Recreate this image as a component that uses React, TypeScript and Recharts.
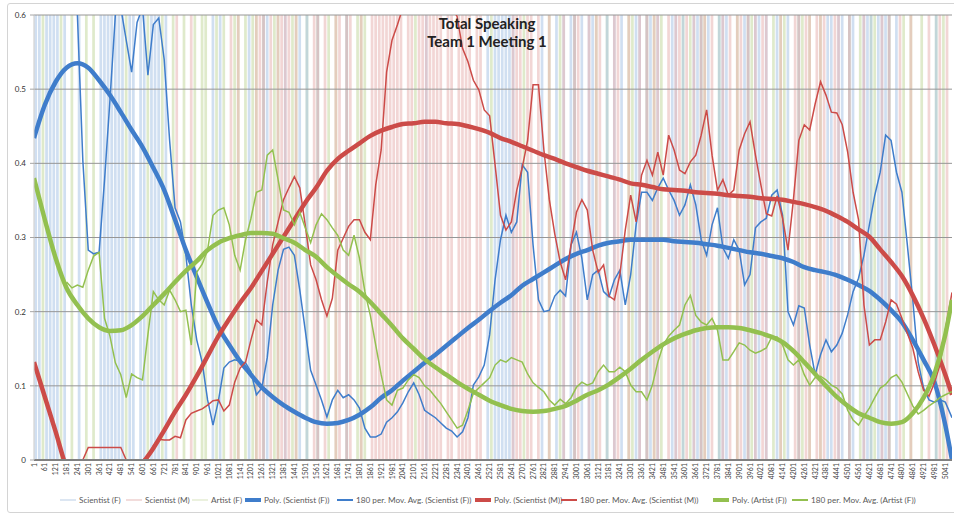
import React from "react";
import { LineChart, Line, XAxis, YAxis, ReferenceArea, ReferenceLine } from "recharts";

const LAST_INDEX = 5078;
const BLOCK = 20;

// axis labels every 60 rows
const tickIndex = Array.from({ length: 85 }, (_, k) => 1 + 60 * k);
// trend lines are sampled every 60 rows, the moving averages every 30 rows from row 181
const polyIndex = [...tickIndex, LAST_INDEX];
const avgIndex = [...Array.from({ length: 163 }, (_, k) => 181 + 30 * k), LAST_INDEX];

const sfPoly = [
  0.434, 0.479, 0.51, 0.529, 0.535, 0.529, 0.512, 0.492, 0.469, 0.445,
  0.422, 0.394, 0.364, 0.324, 0.283, 0.247, 0.212, 0.179, 0.155, 0.133,
  0.115, 0.098, 0.085, 0.074, 0.065, 0.057, 0.051, 0.049, 0.05, 0.054,
  0.061, 0.071, 0.084, 0.094, 0.107, 0.119, 0.131, 0.142, 0.154, 0.166,
  0.178, 0.189, 0.201, 0.212, 0.222, 0.235, 0.244, 0.253, 0.262, 0.271,
  0.278, 0.283, 0.289, 0.293, 0.295, 0.297, 0.297, 0.297, 0.297, 0.295,
  0.294, 0.293, 0.291, 0.289, 0.286, 0.283, 0.28, 0.278, 0.275, 0.272,
  0.267, 0.26, 0.256, 0.253, 0.249, 0.243, 0.236, 0.228, 0.216, 0.202,
  0.186, 0.162, 0.135, 0.105, 0.047, 0.0,
];

const smPoly = [
  0.132, 0.085, 0.038, -0.01, -0.03, -0.04, -0.045, -0.04, -0.03, -0.018,
  -0.004, 0.016, 0.04, 0.065, 0.088, 0.113, 0.14, 0.167, 0.19, 0.212,
  0.232, 0.255, 0.278, 0.301, 0.324, 0.347, 0.367, 0.39, 0.406, 0.417,
  0.427, 0.437, 0.444, 0.449, 0.453, 0.454, 0.456, 0.456, 0.454, 0.453,
  0.45, 0.446, 0.441, 0.434, 0.429, 0.423, 0.417, 0.411, 0.406, 0.4,
  0.395, 0.39, 0.386, 0.382, 0.378, 0.373, 0.371, 0.368, 0.365, 0.364,
  0.363, 0.361, 0.36, 0.359, 0.357, 0.356, 0.355, 0.353, 0.352, 0.351,
  0.348, 0.345, 0.341, 0.336, 0.329, 0.321, 0.311, 0.301, 0.284, 0.267,
  0.248, 0.222, 0.191, 0.155, 0.115, 0.088,
];

const afPoly = [
  0.38, 0.324, 0.272, 0.232, 0.209, 0.191, 0.179, 0.174, 0.175, 0.182,
  0.194, 0.209, 0.224, 0.24, 0.255, 0.268, 0.283, 0.293, 0.299, 0.303,
  0.306, 0.306, 0.305, 0.299, 0.293, 0.283, 0.274, 0.26, 0.248, 0.237,
  0.227, 0.213, 0.197, 0.181, 0.164, 0.15, 0.136, 0.125, 0.115, 0.105,
  0.096, 0.088, 0.08, 0.074, 0.069, 0.066, 0.065, 0.066, 0.069, 0.073,
  0.08, 0.088, 0.094, 0.102, 0.112, 0.123, 0.135, 0.146, 0.156, 0.164,
  0.17, 0.175, 0.178, 0.179, 0.179, 0.178, 0.175, 0.171, 0.166, 0.159,
  0.147, 0.132, 0.116, 0.1, 0.085, 0.073, 0.063, 0.057, 0.051, 0.049,
  0.051, 0.063, 0.084, 0.116, 0.169, 0.216,
];

const sfAvg = [
  0.66, 0.65, 0.6, 0.404, 0.283, 0.278, 0.28, 0.377, 0.485, 0.6,
  0.61, 0.566, 0.523, 0.59, 0.61, 0.519, 0.587, 0.596, 0.54, 0.431,
  0.34, 0.321, 0.276, 0.209, 0.162, 0.132, 0.081, 0.047, 0.08, 0.124,
  0.132, 0.135, 0.133, 0.131, 0.119, 0.088, 0.097, 0.138, 0.209, 0.256,
  0.284, 0.287, 0.276, 0.229, 0.175, 0.121, 0.101, 0.081, 0.058, 0.081,
  0.094, 0.084, 0.088, 0.081, 0.07, 0.043, 0.031, 0.031, 0.035, 0.051,
  0.057, 0.065, 0.077, 0.092, 0.104, 0.088, 0.067, 0.062, 0.057, 0.05,
  0.043, 0.039, 0.031, 0.038, 0.057, 0.101, 0.112, 0.128, 0.169, 0.243,
  0.297, 0.33, 0.307, 0.321, 0.398, 0.388, 0.29, 0.216, 0.2, 0.202,
  0.221, 0.229, 0.221, 0.29, 0.307, 0.272, 0.216, 0.25, 0.256, 0.227,
  0.22, 0.243, 0.256, 0.209, 0.25, 0.317, 0.361, 0.361, 0.35, 0.367,
  0.38, 0.364, 0.35, 0.33, 0.344, 0.371, 0.344, 0.297, 0.276, 0.317,
  0.34, 0.286, 0.272, 0.297, 0.283, 0.236, 0.25, 0.313, 0.321, 0.326,
  0.357, 0.364, 0.33, 0.2, 0.182, 0.208, 0.205, 0.155, 0.115, 0.142,
  0.162, 0.146, 0.155, 0.171, 0.196, 0.227, 0.245, 0.276, 0.317, 0.357,
  0.388, 0.438, 0.431, 0.388, 0.361, 0.29, 0.216, 0.132, 0.097, 0.081,
  0.078, 0.081, 0.078, 0.057,
];

const smAvg = [
  0, 0, 0, 0, 0.017, 0.017, 0.017, 0.017, 0.017, 0.017,
  0.017, 0, 0, 0, 0, 0.003, 0.019, 0.028, 0.027, 0.027,
  0.032, 0.03, 0.054, 0.063, 0.066, 0.069, 0.074, 0.08, 0.081, 0.066,
  0.074, 0.105, 0.124, 0.132, 0.162, 0.189, 0.182, 0.24, 0.29, 0.321,
  0.351, 0.367, 0.382, 0.367, 0.317, 0.263, 0.243, 0.216, 0.194, 0.218,
  0.283, 0.299, 0.315, 0.324, 0.324, 0.307, 0.297, 0.371, 0.418, 0.523,
  0.566, 0.587, 0.61, 0.63, 0.64, 0.65, 0.65, 0.65, 0.64, 0.63,
  0.62, 0.61, 0.598, 0.555, 0.537, 0.512, 0.499, 0.472, 0.464, 0.398,
  0.33, 0.31, 0.321, 0.364, 0.394, 0.431, 0.506, 0.506, 0.418, 0.351,
  0.305, 0.267, 0.243, 0.29, 0.334, 0.351, 0.337, 0.283, 0.253, 0.263,
  0.221, 0.216, 0.25, 0.31, 0.357, 0.321, 0.384, 0.404, 0.384, 0.415,
  0.384, 0.438, 0.418, 0.391, 0.386, 0.402, 0.411, 0.438, 0.472, 0.411,
  0.364, 0.378, 0.357, 0.364, 0.418, 0.44, 0.456, 0.411, 0.371, 0.332,
  0.329, 0.356, 0.326, 0.283, 0.351, 0.431, 0.452, 0.445, 0.48, 0.51,
  0.492, 0.469, 0.468, 0.452, 0.415, 0.361, 0.324, 0.209, 0.155, 0.162,
  0.162, 0.186, 0.216, 0.21, 0.191, 0.171, 0.151, 0.119, 0.094, 0.086,
  0.104, 0.128, 0.175, 0.226,
];

const afAvg = [
  0.24, 0.232, 0.236, 0.233, 0.256, 0.275, 0.28, 0.191, 0.167, 0.131,
  0.115, 0.084, 0.116, 0.111, 0.108, 0.169, 0.227, 0.216, 0.209, 0.229,
  0.216, 0.2, 0.202, 0.155, 0.253, 0.264, 0.283, 0.33, 0.337, 0.34,
  0.317, 0.276, 0.256, 0.297, 0.326, 0.361, 0.364, 0.411, 0.418, 0.378,
  0.337, 0.334, 0.317, 0.334, 0.313, 0.293, 0.317, 0.332, 0.324, 0.313,
  0.303, 0.283, 0.276, 0.303, 0.272, 0.227, 0.195, 0.155, 0.115, 0.081,
  0.074, 0.094, 0.097, 0.108, 0.115, 0.111, 0.1, 0.094, 0.085, 0.076,
  0.065, 0.054, 0.043, 0.047, 0.067, 0.09, 0.097, 0.104, 0.111, 0.128,
  0.135, 0.132, 0.138, 0.135, 0.132, 0.116, 0.104, 0.098, 0.092, 0.081,
  0.074, 0.082, 0.076, 0.084, 0.098, 0.105, 0.101, 0.104, 0.119, 0.128,
  0.119, 0.119, 0.125, 0.119, 0.101, 0.092, 0.092, 0.081, 0.101, 0.132,
  0.155, 0.167, 0.175, 0.182, 0.209, 0.222, 0.195, 0.186, 0.182, 0.191,
  0.175, 0.135, 0.135, 0.146, 0.158, 0.155, 0.148, 0.144, 0.147, 0.151,
  0.166, 0.166, 0.155, 0.135, 0.128, 0.135, 0.115, 0.101, 0.111, 0.113,
  0.108, 0.101, 0.097, 0.089, 0.067, 0.054, 0.047, 0.059, 0.07, 0.084,
  0.097, 0.102, 0.111, 0.115, 0.105, 0.089, 0.073, 0.062, 0.067, 0.073,
  0.078, 0.084, 0.088, 0.092,
];

// who is talking, one character per 20-row block
// b = Scientist (F), r = Scientist (M), g = Artist (F)
// x = r+g, y = b+r, w = b+g, z = all three
const talkTrack = [
  "bbgbbbbgb.", "g.b.g.g.bb", "bbbbbgbb.b", "bgbbbgb.gr", ".g.rg.gg.b",
  "gbg.rgx.gb", "gxrzbrgxry", "rgxb.w.rz.", "rg.xr.zr.g", "xg.rrrrrrr",
  "rr.rrgrryr", "rrr.rr.rrr", "r.rr.bgbbb", "bbyrrgrr.r", "b.x.bgy.bz",
  "rb.ybxr.w.", "yrb.xgby.z", "bxyg.rbyrw", "rgybzxbr.w", "ybr.xrbzgy",
  "bry.gbxgb.", "rzgrx.rxrb", "bryb.zb.gy", "bwgbybz.br", "g.x..g.r.w",
  "rgr.",
].join("");

const codeSpeakers: Record<string, string[]> = {
  b: ["sf"], r: ["sm"], g: ["af"],
  x: ["sm", "af"], y: ["sf", "sm"], w: ["sf", "af"], z: ["sf", "sm", "af"],
};

const speakers = [
  { key: "af", fill: "#c5d9a0" },
  { key: "sf", fill: "#a9c4e6" },
  { key: "sm", fill: "#e8b4b2" },
];

const yTicks = [0, 0.1, 0.2, 0.3, 0.4, 0.5, 0.6];

const legendItems = [
  { label: "Scientist (F)", color: "#dce6f2", width: 2 },
  { label: "Scientist (M)", color: "#f2dcdb", width: 2 },
  { label: "Artist (F)", color: "#ebf1de", width: 2 },
  { label: "Poly. (Scientist (F))", color: "#3f7dcb", width: 4 },
  { label: "180 per. Mov. Avg. (Scientist (F))", color: "#3f7dcb", width: 1.5 },
  { label: "Poly. (Scientist (M))", color: "#cc4b48", width: 4 },
  { label: "180 per. Mov. Avg. (Scientist (M))", color: "#cc4b48", width: 1.5 },
  { label: "Poly. (Artist (F))", color: "#93c04f", width: 4 },
  { label: "180 per. Mov. Avg. (Artist (F))", color: "#93c04f", width: 1.5 },
];
const legendLeft = [60, 126, 192, 245, 337, 475, 561, 713, 792];

const toPoints = (index: number[], values: number[]) => index.map((t, k) => ({ t, v: values[k] }));

const series = [
  { name: "Poly. (Scientist (F))", data: toPoints(polyIndex, sfPoly), color: "#3f7dcb", poly: true },
  { name: "180 per. Mov. Avg. (Scientist (F))", data: toPoints(avgIndex, sfAvg), color: "#3f7dcb", poly: false },
  { name: "Poly. (Scientist (M))", data: toPoints(polyIndex, smPoly), color: "#cc4b48", poly: true },
  { name: "180 per. Mov. Avg. (Scientist (M))", data: toPoints(avgIndex, smAvg), color: "#cc4b48", poly: false },
  { name: "Poly. (Artist (F))", data: toPoints(polyIndex, afPoly), color: "#93c04f", poly: true },
  { name: "180 per. Mov. Avg. (Artist (F))", data: toPoints(avgIndex, afAvg), color: "#93c04f", poly: false },
];

function talkBlocks(key: string) {
  const blocks: number[] = [];
  for (let j = 0; j < talkTrack.length; j++) {
    if ((codeSpeakers[talkTrack[j]] || []).includes(key)) blocks.push(j);
  }
  return blocks;
}

const FONT = "Lato, 'Open Sans', sans-serif";

function IndexTick(props: any) {
  const { x, y, payload } = props;
  return (
    <text
      x={x}
      y={y}
      transform={`rotate(-90, ${x}, ${y})`}
      textAnchor="end"
      dy={2.5}
      fontSize={7}
      fontFamily={FONT}
      fill="#404040"
    >
      {payload.value}
    </text>
  );
}

export default function App() {
  return (
    <div style={{ position: "absolute", left: 0, top: 0, width: 954, height: 514, background: "#fff" }}>
      <div
        style={{
          position: "absolute",
          left: 7,
          top: 3,
          width: 950,
          height: 508,
          border: "1px solid #d4d4d4",
          borderRadius: 3,
        }}
      />
      <LineChart
        width={954}
        height={514}
        margin={{ top: 15, right: 2, bottom: 0, left: 0 }}
        style={{ position: "absolute", left: 0, top: 0 }}
      >
        <XAxis
          type="number"
          dataKey="t"
          domain={[1, LAST_INDEX]}
          ticks={tickIndex}
          interval={0}
          height={54}
          tickSize={0}
          tickMargin={3}
          tickLine={false}
          tick={<IndexTick />}
          axisLine={{ stroke: "#808080", strokeWidth: 2 }}
          allowDataOverflow
        />
        <YAxis
          type="number"
          domain={[0, 0.6]}
          ticks={yTicks}
          width={34}
          allowDataOverflow
          tickSize={4}
          tickMargin={4}
          tickLine={{ stroke: "#a6a6a6" }}
          axisLine={{ stroke: "#c8c8c8" }}
          tick={{ fontSize: 8, fill: "#333", fontFamily: FONT }}
          tickFormatter={(v: number) => (v === 0 ? "0" : v.toFixed(1))}
        />
        {speakers.map((s) =>
          talkBlocks(s.key).map((j) => (
            <ReferenceArea
              key={`${s.key}-${j}`}
              x1={1 + j * BLOCK + 2}
              x2={Math.min(1 + j * BLOCK + 17, LAST_INDEX)}
              fill={s.fill}
              fillOpacity={0.55}
              stroke="none"
            />
          ))
        )}
        {yTicks.slice(1).map((v) => (
          <ReferenceLine key={v} y={v} stroke="#969696" strokeWidth={1} />
        ))}
        {series.map((s) => (
          <Line
            key={s.name}
            name={s.name}
            data={s.data}
            dataKey="v"
            type={s.poly ? "monotone" : "linear"}
            stroke={s.color}
            strokeWidth={s.poly ? 4.5 : 1.5}
            dot={false}
            activeDot={false}
            isAnimationActive={false}
          />
        ))}
      </LineChart>
      <div
        style={{
          position: "absolute",
          left: 387,
          top: 14,
          width: 200,
          textAlign: "center",
          fontFamily: FONT,
          fontWeight: 700,
          fontSize: 15,
          lineHeight: "18px",
          color: "#222",
        }}
      >
        <div>Total Speaking</div>
        <div>Team 1 Meeting 1</div>
      </div>
      {legendItems.map((it, i) => (
        <div
          key={it.label}
          style={{
            position: "absolute",
            left: legendLeft[i],
            top: 494,
            height: 12,
            display: "flex",
            alignItems: "center",
            fontFamily: FONT,
            fontSize: 8.2,
            color: "#595959",
            whiteSpace: "nowrap",
          }}
        >
          <span style={{ display: "inline-block", width: 16, height: it.width, background: it.color, marginRight: 3 }} />
          <span>{it.label}</span>
        </div>
      ))}
    </div>
  );
}
